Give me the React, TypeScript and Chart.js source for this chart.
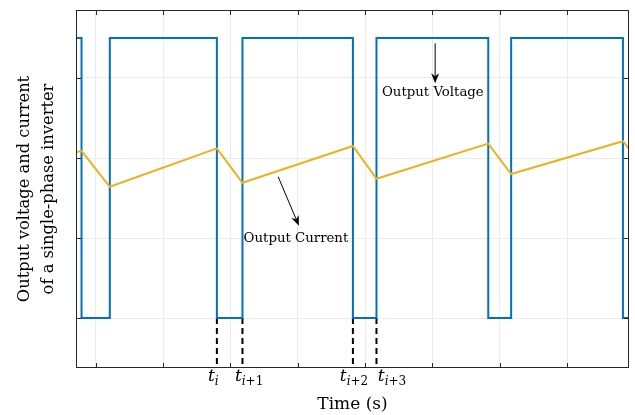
import React, { useEffect, useRef } from "react";
import { Chart, registerables } from "chart.js";

Chart.register(...registerables);

// ---------- data ----------
const xMin = 0.708;
const xMax = 8.92;
const yMin = -0.625;
const yMax = 3.85;
const xTicks = [1, 2, 3, 4, 5, 6, 7, 8];
const yTicks = [0, 1, 2, 3];

const voltageT = [0.7, 0.79, 0.79, 1.21, 1.21, 2.8, 2.8, 3.18, 3.18, 4.82, 4.82, 5.17, 5.17, 6.83, 6.83, 7.17, 7.17, 8.83, 8.83, 9.0];
const voltageV = [3.5, 3.5, 0, 0, 3.5, 3.5, 0, 0, 3.5, 3.5, 0, 0, 3.5, 3.5, 0, 0, 3.5, 3.5, 0, 0];

const currentT = [0.7, 0.79, 1.21, 2.8, 3.18, 4.82, 5.17, 6.83, 7.17, 8.83, 9.18];
const currentI = [2.07, 2.09, 1.64, 2.12, 1.69, 2.15, 1.74, 2.18, 1.8, 2.21, 1.84];

const markerTimes = [2.8, 3.18, 4.82, 5.17];
const markerSubs = ["i", "i+1", "i+2", "i+3"];
const markerLabelX = [2.667, 3.068, 4.626, 5.19];

const xTitle = "Time (s)";
const yTitleLines = ["Output voltage and current", "of a single-phase inverter"];

const annotVoltage = { text: "Output Voltage", from: [6.041, 3.434], to: [6.041, 2.934], at: [6.007, 2.8125] };
const annotCurrent = { text: "Output Current", from: [3.71, 1.766], to: [4.018, 1.154], at: [3.974, 0.988] };

const BLUE = "#0072BD";
const ORANGE = "#EDB120";
const AXIS = "#262626";
const SERIF = '"DejaVu Serif", serif';

function drawArrow(ctx: CanvasRenderingContext2D, x1: number, y1: number, x2: number, y2: number) {
  const ang = Math.atan2(y2 - y1, x2 - x1);
  const L = 10, W = 4, back = 3;
  ctx.save();
  ctx.strokeStyle = "#000";
  ctx.fillStyle = "#000";
  ctx.lineWidth = 1;
  ctx.beginPath();
  ctx.moveTo(x1, y1);
  ctx.lineTo(x2 - Math.cos(ang) * (L - back), y2 - Math.sin(ang) * (L - back));
  ctx.stroke();
  ctx.translate(x2, y2);
  ctx.rotate(ang);
  ctx.beginPath();
  ctx.moveTo(0, 0);
  ctx.lineTo(-L, -W);
  ctx.lineTo(-L + back, 0);
  ctx.lineTo(-L, W);
  ctx.closePath();
  ctx.fill();
  ctx.restore();
}

const overlay = {
  id: "overlay",
  afterDraw(chart: any) {
    const { ctx, chartArea: a, scales } = chart;
    const xs = scales.x, ys = scales.y;
    ctx.save();
    // box
    ctx.strokeStyle = AXIS;
    ctx.lineWidth = 1;
    ctx.strokeRect(Math.round(a.left) + 0.5, Math.round(a.top) + 0.5, Math.round(a.right - a.left) - 1, Math.round(a.bottom - a.top) - 1);
    // ticks (inward)
    const tl = 5;
    ctx.beginPath();
    xTicks.forEach((t) => {
      const px = Math.round(xs.getPixelForValue(t)) + 0.5;
      ctx.moveTo(px, a.bottom);
      ctx.lineTo(px, a.bottom - tl);
      ctx.moveTo(px, a.top);
      ctx.lineTo(px, a.top + tl);
    });
    yTicks.forEach((t) => {
      const py = Math.round(ys.getPixelForValue(t)) + 0.5;
      ctx.moveTo(a.left, py);
      ctx.lineTo(a.left + tl, py);
      ctx.moveTo(a.right, py);
      ctx.lineTo(a.right - tl, py);
    });
    ctx.stroke();

    // annotations
    [annotVoltage, annotCurrent].forEach((an) => {
      drawArrow(ctx, xs.getPixelForValue(an.from[0]), ys.getPixelForValue(an.from[1]), xs.getPixelForValue(an.to[0]), ys.getPixelForValue(an.to[1]));
      ctx.fillStyle = "#000";
      ctx.font = `13.3px ${SERIF}`;
      ctx.textAlign = "center";
      ctx.textBaseline = "middle";
      ctx.fillText(an.text, xs.getPixelForValue(an.at[0]), ys.getPixelForValue(an.at[1]));
    });

    // marker labels t_i
    ctx.fillStyle = "#000";
    ctx.textBaseline = "alphabetic";
    ctx.textAlign = "left";
    markerSubs.forEach((s, i) => {
      let x = xs.getPixelForValue(markerLabelX[i]);
      const base = 381;
      ctx.font = `italic 17px ${SERIF}`;
      ctx.fillText("t", x, base);
      x += ctx.measureText("t").width;
      ctx.font = `italic 12px ${SERIF}`;
      ctx.fillText("i", x, base + 4);
      x += ctx.measureText("i").width;
      const rest = s.slice(1);
      if (rest) {
        ctx.font = `12px ${SERIF}`;
        ctx.fillText(rest, x, base + 4);
      }
    });

    // axis titles
    ctx.font = `17px ${SERIF}`;
    ctx.textAlign = "center";
    ctx.textBaseline = "alphabetic";
    ctx.fillText(xTitle, (a.left + a.right) / 2, 409);
    const cy = (a.top + a.bottom) / 2;
    ctx.translate(0, cy);
    ctx.rotate(-Math.PI / 2);
    ctx.font = `16.3px ${SERIF}`;
    ctx.fillText(yTitleLines[0], 0, 28.5);
    ctx.fillText(yTitleLines[1], 0, 52.5);
    ctx.restore();
  },
};

export default function App() {
  const ref = useRef<HTMLCanvasElement | null>(null);
  useEffect(() => {
    if (!ref.current) return;
    const dashData: any[] = [];
    markerTimes.forEach((t) => {
      dashData.push({ x: t, y: 0 }, { x: t, y: yMin }, { x: t, y: null });
    });
    const chart = new Chart(ref.current, {
      type: "line",
      data: {
        datasets: [
          {
            data: currentT.map((t, i) => ({ x: t, y: currentI[i] })),
            borderColor: ORANGE,
            borderWidth: 2,
            pointRadius: 0,
            tension: 0,
          },
          {
            data: voltageT.map((t, i) => ({ x: t, y: voltageV[i] })),
            borderColor: BLUE,
            borderWidth: 2,
            pointRadius: 0,
            tension: 0,
          },
          {
            data: dashData,
            borderColor: "#000",
            borderWidth: 2,
            borderDash: [6, 4],
            pointRadius: 0,
            spanGaps: false,
          },
        ],
      },
      options: {
        responsive: false,
        animation: false,
        devicePixelRatio: 1,
        layout: { padding: { top: 10, right: 6, left: 0, bottom: 0 } },
        plugins: { legend: { display: false }, tooltip: { enabled: false } },
        scales: {
          x: {
            type: "linear",
            min: xMin,
            max: xMax,
            ticks: { display: false },
            grid: { color: "#ebebeb", drawTicks: false, lineWidth: 1 },
            border: { display: false },
            afterBuildTicks: (s: any) => {
              s.ticks = xTicks.map((v) => ({ value: v }));
            },
            afterFit: (s: any) => {
              s.height = 47;
            },
          },
          y: {
            type: "linear",
            min: yMin,
            max: yMax,
            ticks: { display: false },
            grid: { color: "#ebebeb", drawTicks: false, lineWidth: 1 },
            border: { display: false },
            afterBuildTicks: (s: any) => {
              s.ticks = yTicks.map((v) => ({ value: v }));
            },
            afterFit: (s: any) => {
              s.width = 76;
            },
          },
        },
      } as any,
      plugins: [overlay],
    });
    return () => chart.destroy();
  }, []);
  return (
    <div style={{ position: "fixed", left: 0, top: 0, width: 635, height: 415, background: "#fff" }}>
      <canvas ref={ref} width={635} height={415} style={{ display: "block" }} />
    </div>
  );
}
